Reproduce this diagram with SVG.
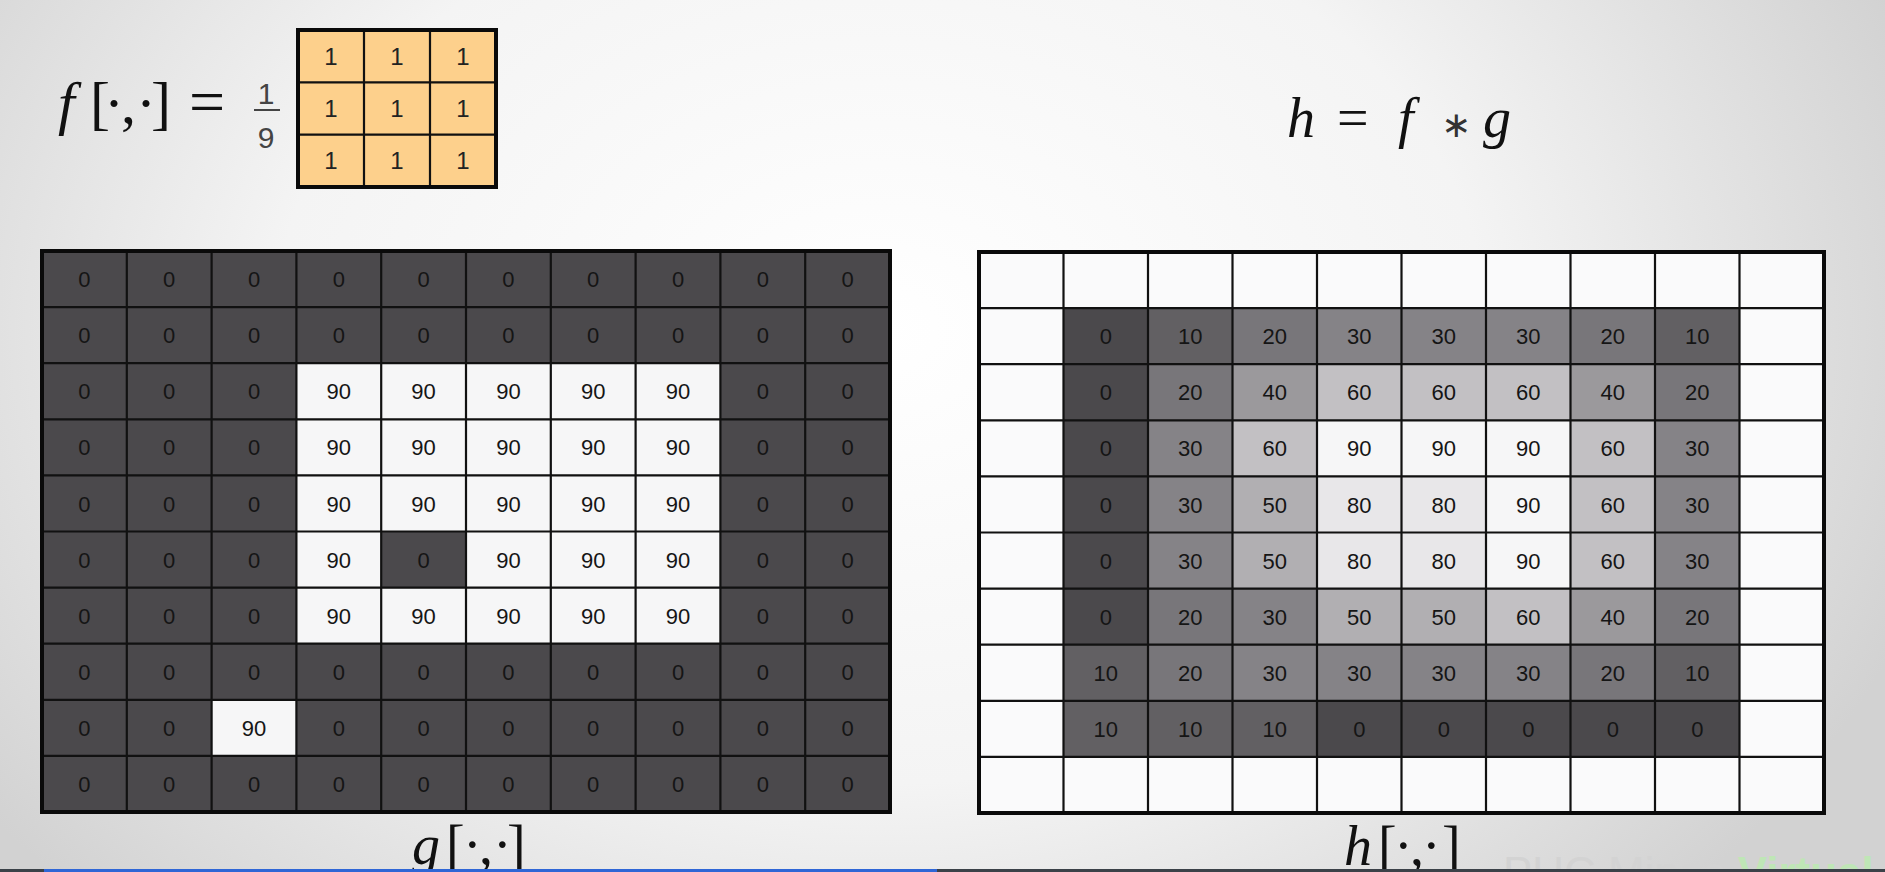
<svg xmlns="http://www.w3.org/2000/svg" width="1885" height="872" viewBox="0 0 1885 872">
<defs>
<radialGradient id="bg" cx="880" cy="330" r="1100" gradientUnits="userSpaceOnUse" gradientTransform="translate(880 330) scale(1 0.75) translate(-880 -330)">
<stop offset="0" stop-color="#ffffff"/>
<stop offset="0.55" stop-color="#f4f4f4"/>
<stop offset="1" stop-color="#d2d2d2"/>
</radialGradient>
<style>
.math{font-family:"Liberation Serif","DejaVu Serif",serif;fill:#111}
.it{font-style:italic}
.cell{font-family:"Liberation Sans",Arial,sans-serif;font-size:22px;fill:#151515;text-anchor:middle}
.kcell{font-family:"Liberation Sans",Arial,sans-serif;font-size:24px;fill:#222;text-anchor:middle}
.gl{stroke:#111;stroke-width:2.2;fill:none}
.border{stroke:#0a0a0a;stroke-width:4;fill:none}
.v0{fill:#4b494c}.v10{fill:#626063}.v20{fill:#78767a}.v30{fill:#858387}.v40{fill:#9b999c}.v50{fill:#b1afb2}.v60{fill:#c2c0c3}.v80{fill:#e8e7e9}.v90{fill:#f6f6f7}
</style>
</defs>
<rect width="1885" height="872" fill="url(#bg)"/>

<g id="kernel-formula">
<text class="math it" x="58" y="123" font-size="60">f</text>
<text class="math" y="123" font-size="60"><tspan x="90">[</tspan><tspan x="104">·</tspan><tspan x="121">,</tspan><tspan x="136">·</tspan><tspan x="151">]</tspan></text>
<text class="math" x="189" y="123" font-size="64">=</text>
<text x="266" y="104" font-family="Liberation Sans,Arial,sans-serif" font-size="30" fill="#444" text-anchor="middle">1</text>
<line x1="254" y1="110" x2="280" y2="110" stroke="#444" stroke-width="2"/>
<text x="266" y="148" font-family="Liberation Sans,Arial,sans-serif" font-size="30" fill="#444" text-anchor="middle">9</text>
</g>

<g id="kernel">
<rect x="298" y="30" width="198" height="157" fill="#fdd08c"/>
<path class="gl" d="M364 30V187M430 30V187M298 82.3H496M298 134.7H496"/>
<rect class="border" x="298" y="30" width="198" height="157"/>
<text class="kcell" y="65"><tspan x="331">1</tspan><tspan x="397">1</tspan><tspan x="463">1</tspan></text>
<text class="kcell" y="117"><tspan x="331">1</tspan><tspan x="397">1</tspan><tspan x="463">1</tspan></text>
<text class="kcell" y="169"><tspan x="331">1</tspan><tspan x="397">1</tspan><tspan x="463">1</tspan></text>
</g>

<g id="conv-formula">
<text class="math it" x="1287" y="137" font-size="56">h</text>
<text class="math" x="1337" y="137" font-size="56">=</text>
<text class="math it" x="1398" y="137" font-size="56">f</text>
<text x="1456" y="137" font-family="DejaVu Sans,sans-serif" font-size="36" fill="#333" text-anchor="middle">∗</text>
<text class="math it" x="1483" y="137" font-size="56">g</text>
</g>

<g id="grid-g">
<rect x="42" y="251" width="848" height="561" class="v0"/>
<rect x="296.4" y="363.2" width="424" height="280.5" class="v90"/>
<rect x="381.2" y="531.5" width="84.8" height="56.1" class="v0"/>
<rect x="211.6" y="699.8" width="84.8" height="56.1" class="v90"/>
<path class="gl" d="M126.8 251V812M211.6 251V812M296.4 251V812M381.2 251V812M466 251V812M550.8 251V812M635.6 251V812M720.4 251V812M805.2 251V812M42 307.1H890M42 363.2H890M42 419.3H890M42 475.4H890M42 531.5H890M42 587.6H890M42 643.7H890M42 699.8H890M42 755.9H890"/>
<rect class="border" x="42" y="251" width="848" height="561"/>
<text class="cell" y="287"><tspan x="84.4">0</tspan><tspan x="169.2">0</tspan><tspan x="254">0</tspan><tspan x="338.8">0</tspan><tspan x="423.6">0</tspan><tspan x="508.4">0</tspan><tspan x="593.2">0</tspan><tspan x="678">0</tspan><tspan x="762.8">0</tspan><tspan x="847.6">0</tspan></text>
<text class="cell" y="343.2"><tspan x="84.4">0</tspan><tspan x="169.2">0</tspan><tspan x="254">0</tspan><tspan x="338.8">0</tspan><tspan x="423.6">0</tspan><tspan x="508.4">0</tspan><tspan x="593.2">0</tspan><tspan x="678">0</tspan><tspan x="762.8">0</tspan><tspan x="847.6">0</tspan></text>
<text class="cell" y="399.3"><tspan x="84.4">0</tspan><tspan x="169.2">0</tspan><tspan x="254">0</tspan><tspan x="338.8">90</tspan><tspan x="423.6">90</tspan><tspan x="508.4">90</tspan><tspan x="593.2">90</tspan><tspan x="678">90</tspan><tspan x="762.8">0</tspan><tspan x="847.6">0</tspan></text>
<text class="cell" y="455.4"><tspan x="84.4">0</tspan><tspan x="169.2">0</tspan><tspan x="254">0</tspan><tspan x="338.8">90</tspan><tspan x="423.6">90</tspan><tspan x="508.4">90</tspan><tspan x="593.2">90</tspan><tspan x="678">90</tspan><tspan x="762.8">0</tspan><tspan x="847.6">0</tspan></text>
<text class="cell" y="511.5"><tspan x="84.4">0</tspan><tspan x="169.2">0</tspan><tspan x="254">0</tspan><tspan x="338.8">90</tspan><tspan x="423.6">90</tspan><tspan x="508.4">90</tspan><tspan x="593.2">90</tspan><tspan x="678">90</tspan><tspan x="762.8">0</tspan><tspan x="847.6">0</tspan></text>
<text class="cell" y="567.6"><tspan x="84.4">0</tspan><tspan x="169.2">0</tspan><tspan x="254">0</tspan><tspan x="338.8">90</tspan><tspan x="423.6">0</tspan><tspan x="508.4">90</tspan><tspan x="593.2">90</tspan><tspan x="678">90</tspan><tspan x="762.8">0</tspan><tspan x="847.6">0</tspan></text>
<text class="cell" y="623.7"><tspan x="84.4">0</tspan><tspan x="169.2">0</tspan><tspan x="254">0</tspan><tspan x="338.8">90</tspan><tspan x="423.6">90</tspan><tspan x="508.4">90</tspan><tspan x="593.2">90</tspan><tspan x="678">90</tspan><tspan x="762.8">0</tspan><tspan x="847.6">0</tspan></text>
<text class="cell" y="679.8"><tspan x="84.4">0</tspan><tspan x="169.2">0</tspan><tspan x="254">0</tspan><tspan x="338.8">0</tspan><tspan x="423.6">0</tspan><tspan x="508.4">0</tspan><tspan x="593.2">0</tspan><tspan x="678">0</tspan><tspan x="762.8">0</tspan><tspan x="847.6">0</tspan></text>
<text class="cell" y="735.9"><tspan x="84.4">0</tspan><tspan x="169.2">0</tspan><tspan x="254">90</tspan><tspan x="338.8">0</tspan><tspan x="423.6">0</tspan><tspan x="508.4">0</tspan><tspan x="593.2">0</tspan><tspan x="678">0</tspan><tspan x="762.8">0</tspan><tspan x="847.6">0</tspan></text>
<text class="cell" y="792"><tspan x="84.4">0</tspan><tspan x="169.2">0</tspan><tspan x="254">0</tspan><tspan x="338.8">0</tspan><tspan x="423.6">0</tspan><tspan x="508.4">0</tspan><tspan x="593.2">0</tspan><tspan x="678">0</tspan><tspan x="762.8">0</tspan><tspan x="847.6">0</tspan></text>
<text class="math it" x="412" y="864" font-size="56">g</text>
<text class="math" y="864" font-size="56"><tspan x="446">[</tspan><tspan x="463">·</tspan><tspan x="479">,</tspan><tspan x="493">·</tspan><tspan x="507">]</tspan></text>
</g>

<g id="grid-h">
<rect x="979" y="252" width="845" height="561" fill="#fafafb"/>
<rect x="1063.5" y="308.1" width="84.5" height="56.1" class="v0"/><rect x="1148" y="308.1" width="84.5" height="56.1" class="v10"/><rect x="1232.5" y="308.1" width="84.5" height="56.1" class="v20"/><rect x="1317" y="308.1" width="253.5" height="56.1" class="v30"/><rect x="1570.5" y="308.1" width="84.5" height="56.1" class="v20"/><rect x="1655" y="308.1" width="84.5" height="56.1" class="v10"/>
<rect x="1063.5" y="364.2" width="84.5" height="56.1" class="v0"/><rect x="1148" y="364.2" width="84.5" height="56.1" class="v20"/><rect x="1232.5" y="364.2" width="84.5" height="56.1" class="v40"/><rect x="1317" y="364.2" width="253.5" height="56.1" class="v60"/><rect x="1570.5" y="364.2" width="84.5" height="56.1" class="v40"/><rect x="1655" y="364.2" width="84.5" height="56.1" class="v20"/>
<rect x="1063.5" y="420.3" width="84.5" height="56.1" class="v0"/><rect x="1148" y="420.3" width="84.5" height="56.1" class="v30"/><rect x="1232.5" y="420.3" width="84.5" height="56.1" class="v60"/><rect x="1317" y="420.3" width="253.5" height="56.1" class="v90"/><rect x="1570.5" y="420.3" width="84.5" height="56.1" class="v60"/><rect x="1655" y="420.3" width="84.5" height="56.1" class="v30"/>
<rect x="1063.5" y="476.4" width="84.5" height="112.2" class="v0"/><rect x="1148" y="476.4" width="84.5" height="112.2" class="v30"/><rect x="1232.5" y="476.4" width="84.5" height="112.2" class="v50"/><rect x="1317" y="476.4" width="169" height="112.2" class="v80"/><rect x="1486" y="476.4" width="84.5" height="112.2" class="v90"/><rect x="1570.5" y="476.4" width="84.5" height="112.2" class="v60"/><rect x="1655" y="476.4" width="84.5" height="112.2" class="v30"/>
<rect x="1063.5" y="588.6" width="84.5" height="56.1" class="v0"/><rect x="1148" y="588.6" width="84.5" height="56.1" class="v20"/><rect x="1232.5" y="588.6" width="84.5" height="56.1" class="v30"/><rect x="1317" y="588.6" width="169" height="56.1" class="v50"/><rect x="1486" y="588.6" width="84.5" height="56.1" class="v60"/><rect x="1570.5" y="588.6" width="84.5" height="56.1" class="v40"/><rect x="1655" y="588.6" width="84.5" height="56.1" class="v20"/>
<rect x="1063.5" y="644.7" width="84.5" height="56.1" class="v10"/><rect x="1148" y="644.7" width="84.5" height="56.1" class="v20"/><rect x="1232.5" y="644.7" width="338" height="56.1" class="v30"/><rect x="1570.5" y="644.7" width="84.5" height="56.1" class="v20"/><rect x="1655" y="644.7" width="84.5" height="56.1" class="v10"/>
<rect x="1063.5" y="700.8" width="253.5" height="56.1" class="v10"/><rect x="1317" y="700.8" width="422.5" height="56.1" class="v0"/>
<path class="gl" d="M1063.5 252V813M1148 252V813M1232.5 252V813M1317 252V813M1401.5 252V813M1486 252V813M1570.5 252V813M1655 252V813M1739.5 252V813M979 308.1H1824M979 364.2H1824M979 420.3H1824M979 476.4H1824M979 532.5H1824M979 588.6H1824M979 644.7H1824M979 700.8H1824M979 756.9H1824"/>
<rect class="border" x="979" y="252" width="845" height="561"/>
<text class="cell" y="344.2"><tspan x="1105.75">0</tspan><tspan x="1190.25">10</tspan><tspan x="1274.75">20</tspan><tspan x="1359.25">30</tspan><tspan x="1443.75">30</tspan><tspan x="1528.25">30</tspan><tspan x="1612.75">20</tspan><tspan x="1697.25">10</tspan></text>
<text class="cell" y="400.3"><tspan x="1105.75">0</tspan><tspan x="1190.25">20</tspan><tspan x="1274.75">40</tspan><tspan x="1359.25">60</tspan><tspan x="1443.75">60</tspan><tspan x="1528.25">60</tspan><tspan x="1612.75">40</tspan><tspan x="1697.25">20</tspan></text>
<text class="cell" y="456.4"><tspan x="1105.75">0</tspan><tspan x="1190.25">30</tspan><tspan x="1274.75">60</tspan><tspan x="1359.25">90</tspan><tspan x="1443.75">90</tspan><tspan x="1528.25">90</tspan><tspan x="1612.75">60</tspan><tspan x="1697.25">30</tspan></text>
<text class="cell" y="512.5"><tspan x="1105.75">0</tspan><tspan x="1190.25">30</tspan><tspan x="1274.75">50</tspan><tspan x="1359.25">80</tspan><tspan x="1443.75">80</tspan><tspan x="1528.25">90</tspan><tspan x="1612.75">60</tspan><tspan x="1697.25">30</tspan></text>
<text class="cell" y="568.6"><tspan x="1105.75">0</tspan><tspan x="1190.25">30</tspan><tspan x="1274.75">50</tspan><tspan x="1359.25">80</tspan><tspan x="1443.75">80</tspan><tspan x="1528.25">90</tspan><tspan x="1612.75">60</tspan><tspan x="1697.25">30</tspan></text>
<text class="cell" y="624.7"><tspan x="1105.75">0</tspan><tspan x="1190.25">20</tspan><tspan x="1274.75">30</tspan><tspan x="1359.25">50</tspan><tspan x="1443.75">50</tspan><tspan x="1528.25">60</tspan><tspan x="1612.75">40</tspan><tspan x="1697.25">20</tspan></text>
<text class="cell" y="680.8"><tspan x="1105.75">10</tspan><tspan x="1190.25">20</tspan><tspan x="1274.75">30</tspan><tspan x="1359.25">30</tspan><tspan x="1443.75">30</tspan><tspan x="1528.25">30</tspan><tspan x="1612.75">20</tspan><tspan x="1697.25">10</tspan></text>
<text class="cell" y="736.9"><tspan x="1105.75">10</tspan><tspan x="1190.25">10</tspan><tspan x="1274.75">10</tspan><tspan x="1359.25">0</tspan><tspan x="1443.75">0</tspan><tspan x="1528.25">0</tspan><tspan x="1612.75">0</tspan><tspan x="1697.25">0</tspan></text>
<text class="math it" x="1344" y="865" font-size="56">h</text>
<text class="math" y="865" font-size="56"><tspan x="1378">[</tspan><tspan x="1394">·</tspan><tspan x="1410">,</tspan><tspan x="1422">·</tspan><tspan x="1442">]</tspan></text>
</g>

<g id="watermark">
<text x="1503" y="888" font-family="Liberation Sans,Arial,sans-serif" font-size="44"><tspan fill="#d3d3d3">PUC Minas </tspan><tspan fill="#bfe6b6" font-weight="bold">Virtual</tspan></text>
</g>

<g id="bottom-bar">
<rect x="0" y="869" width="1885" height="3" fill="#3b4148"/>
<rect x="44" y="869" width="893" height="3" fill="#2f66d6"/>
</g>
</svg>
